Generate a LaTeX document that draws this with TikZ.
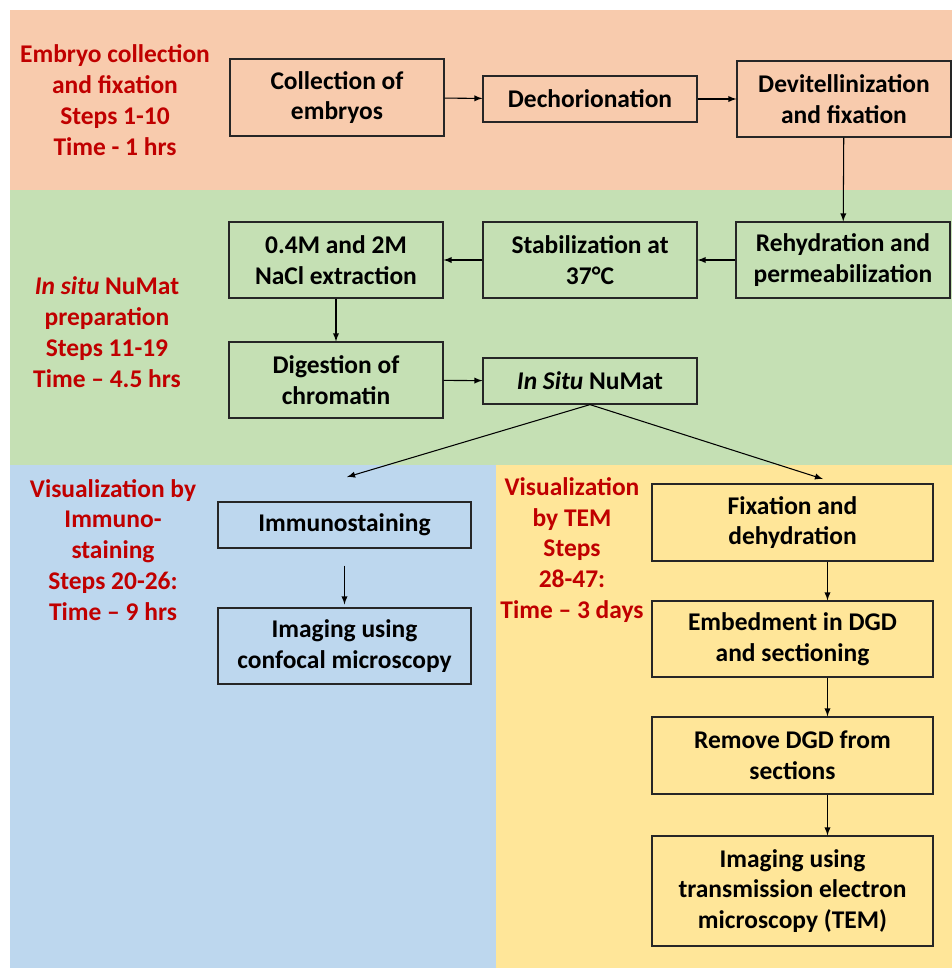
\documentclass[tikz,border=0pt]{standalone}
\usepackage{fontspec}
\setmainfont{Carlito}
\usetikzlibrary{arrows, positioning, calc}
\definecolor{peachbg}{HTML}{F8CBAD}
\definecolor{greenbg}{HTML}{C5E0B4}
\definecolor{bluebg}{HTML}{BDD7EE}
\definecolor{yellowbg}{HTML}{FFE699}
\definecolor{stepred}{HTML}{C00000}
\tikzstyle{process} = [rectangle, minimum width=4.28cm, minimum height=1.52cm, align=center, draw=black!85, line width=0.7pt, inner sep=2pt, font=\fontsize{14.5}{17.6}\selectfont\bfseries]
\tikzstyle{phase} = [align=center, text=stepred, inner sep=0pt, font=\fontsize{14.5}{17.6}\selectfont\bfseries]
\tikzstyle{arrow} = [semithick,->,>=latex]

\begin{document}
\begin{tikzpicture}[x=0.02cm, y=-0.02cm]
\useasboundingbox (0,0) rectangle (952,968);

% Background bands
\fill [peachbg] (10,10) rectangle (952,190);
\fill [greenbg] (10,190) rectangle (952,465);
\fill [bluebg] (10,465) rectangle (496,968);
\fill [yellowbg] (496,465) rectangle (952,968);

% Embryo collection and fixation
\node (phaseone) [phase] at (115,100) {Embryo collection\\and fixation\\Steps 1-10\\Time - 1 hrs};
\node (coll) [process, minimum height=1.54cm] at (337,97.5) {Collection of\\embryos};
\node (dech) [process, minimum height=0.92cm] at (590,99) {Dechorionation};
\node (devit) [process] at (844,99) {Devitellinization\\and fixation};

% In situ NuMat preparation
\node (phasetwo) [phase] at (107,332) {\textit{In situ} NuMat\\preparation\\Steps 11-19\\Time -- 4.5 hrs};
\node (rehyd) [process] at (843,260) {Rehydration and\\permeabilization};
\node (stab) [process] at (590,260) {Stabilization at\\37°C};
\node (nacl) [process] at (336,260) {0.4M and 2M\\NaCl extraction};
\node (dig) [process] at (336,380) {Digestion of\\chromatin};
\node (numat) [process, minimum height=0.92cm] at (590,381) {\textit{In Situ} NuMat};

% Visualization by immunostaining
\node (phasethree) [phase] at (113,550) {Visualization by\\Immuno-\\staining\\Steps 20-26:\\Time -- 9 hrs};
\node (immuno) [process, minimum width=5.06cm, minimum height=0.92cm] at (344.5,525) {Immunostaining};
\node (confocal) [process, minimum width=5.06cm] at (344.5,646) {Imaging using\\confocal microscopy};

% Visualization by TEM
\node (phasefour) [phase] at (572,550) {Visualization\\by TEM\\Steps\\28-47:\\Time -- 3 days};
\node (fixdeh) [process, minimum width=5.62cm, minimum height=1.54cm] at (792.5,522.5) {Fixation and\\dehydration};
\node (embed) [process, minimum width=5.62cm] at (792.5,639) {Embedment in DGD\\and sectioning};
\node (remove) [process, minimum width=5.62cm, minimum height=1.54cm] at (792.5,755.5) {Remove DGD from\\sections};
\node (tem) [process, minimum width=5.62cm, minimum height=2.2cm] at (792.5,891) {Imaging using\\transmission electron\\microscopy (TEM)};

\coordinate (immtop) at (347,477);
\coordinate (fixtop) at (823,479);

% Arrows
\draw [arrow] (coll) -- (dech);
\draw [arrow] (dech) -- (devit);
\draw [arrow] (devit) -- (rehyd);
\draw [arrow] (rehyd) -- (stab);
\draw [arrow] (stab) -- (nacl);
\draw [arrow] (nacl) -- (dig);
\draw [arrow] (dig) -- (numat);
\draw [arrow] (numat.south) -- (immtop);
\draw [arrow] (numat.south) -- (fixtop);
\draw [arrow, shorten <=17*0.02cm, shorten >=3*0.02cm] (immuno) -- (confocal);
\draw [arrow] ([xshift=0.7cm]fixdeh.south) -- ([xshift=0.7cm]embed.north);
\draw [arrow] ([xshift=0.7cm]embed.south) -- ([xshift=0.7cm]remove.north);
\draw [arrow] ([xshift=0.7cm]remove.south) -- ([xshift=0.7cm]tem.north);

\end{tikzpicture}
\end{document}
